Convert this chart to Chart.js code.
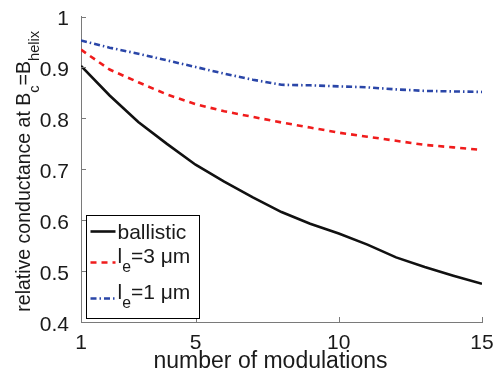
<!DOCTYPE html>
<html><head><meta charset="utf-8">
<script src="https://cdn.jsdelivr.net/npm/chart.js@4/dist/chart.umd.min.js"></script>
<style>html,body{margin:0;padding:0;background:#fff}#wrap{width:502px;height:372px}</style>
</head><body><div id="wrap"><canvas id="c" width="502" height="372"></canvas></div>
<script>
// ---- data ----
const modulations = [1,2,3,4,5,6,7,8,9,10,11,12,13,14,15];
const ballistic = [0.903,0.845,0.793,0.750,0.709,0.676,0.645,0.616,0.593,0.574,0.552,0.527,0.508,0.491,0.475];
const le3um     = [0.935,0.896,0.871,0.847,0.828,0.814,0.803,0.792,0.782,0.772,0.764,0.756,0.748,0.743,0.738];
const le1um     = [0.953,0.939,0.927,0.914,0.901,0.888,0.876,0.866,0.865,0.863,0.861,0.857,0.854,0.853,0.852];
const seriesLabels = ['ballistic','l_e=3 μm','l_e=1 μm'];
const xTickValues = [1,5,10,15];
const yTickValues = [0.4,0.5,0.6,0.7,0.8,0.9,1];
const xTitle = 'number of modulations';
const yTitle = 'relative conductance at B_c=B_{helix}';

const FAM = '"Liberation Sans", Arial, Helvetica, sans-serif';
const AXIS = '#7a7a7a';
const TXT = '#1a1a1a';

function parseRich(s){
  const parts=[]; let buf=''; let i=0;
  while(i<s.length){
    if(s[i]==='_'){
      if(buf){parts.push({t:buf,sub:false});buf='';}
      if(s[i+1]==='{'){const j=s.indexOf('}',i);parts.push({t:s.slice(i+2,j),sub:true});i=j+1;}
      else {parts.push({t:s[i+1],sub:true});i+=2;}
    } else {buf+=s[i];i++;}
  }
  if(buf)parts.push({t:buf,sub:false});
  return parts;
}
const SUBK = 0.75, SUBDY = 0.45;
function richWidth(ctx,s,size){
  let w=0;
  for(const p of parseRich(s)){ctx.font=(p.sub?size*SUBK:size)+'px '+FAM;w+=ctx.measureText(p.t).width;}
  return w;
}
function drawRich(ctx,s,x,y,size,color){
  ctx.fillStyle=color;ctx.textAlign='left';ctx.textBaseline='alphabetic';
  for(const p of parseRich(s)){
    const fs=p.sub?size*SUBK:size;
    ctx.font=fs+'px '+FAM;
    ctx.fillText(p.t,x,y+(p.sub?size*SUBDY:0));
    x+=ctx.measureText(p.t).width;
  }
}

const inwardTicks = {
  id:'inwardTicks',
  afterDraw(chart){
    const {ctx,chartArea:a,scales:{x,y}}=chart;
    ctx.save();ctx.strokeStyle=AXIS;ctx.lineWidth=1;
    ctx.beginPath();
    for(const t of x.ticks){const px=Math.round(x.getPixelForValue(t.value))+0.5;ctx.moveTo(px,a.bottom);ctx.lineTo(px,a.bottom-5);}
    for(const t of y.ticks){const py=Math.round(y.getPixelForValue(t.value))+0.5;ctx.moveTo(a.left,py);ctx.lineTo(a.left+5,py);}
    ctx.stroke();ctx.restore();
  }
};

const titlesPlugin = {
  id:'axisTitles',
  afterDraw(chart){
    const {ctx,chartArea:a}=chart;
    // y title (rotated, with subscripts)
    const size=19.5;
    ctx.save();
    const w=richWidth(ctx,yTitle,size);
    ctx.translate(30,(a.top+a.bottom)/2+2);
    ctx.rotate(-Math.PI/2);
    drawRich(ctx,yTitle,-w/2,0,size,TXT);
    ctx.restore();
    // x title
    ctx.save();
    const xs=23;
    const xw=richWidth(ctx,xTitle,xs);
    drawRich(ctx,xTitle,(a.left+a.right)/2-11-xw/2,a.bottom+45.5,xs,TXT);
    ctx.restore();
  }
};

const legendPlugin = {
  id:'richLegend',
  afterDraw(chart){
    const {ctx,chartArea:a}=chart;
    const bx=a.left+5.5, by=a.bottom-106.5, bw=113, bh=103;
    const rowY=[16,47,83];
    const size=21;
    ctx.save();
    ctx.fillStyle='#fff';ctx.fillRect(bx,by,bw,bh);
    ctx.strokeStyle='#000';ctx.lineWidth=1;ctx.strokeRect(bx,by,bw,bh);
    chart.data.datasets.forEach((ds,i)=>{
      const ly=by+rowY[i];
      ctx.save();
      ctx.strokeStyle=ds.borderColor;ctx.lineWidth=ds.borderWidth;ctx.setLineDash(ds.borderDash||[]);
      ctx.beginPath();ctx.moveTo(bx+4,ly);ctx.lineTo(bx+29,ly);ctx.stroke();
      ctx.restore();
      const hasSub=ds.label.indexOf('_')>=0;
      drawRich(ctx,ds.label,bx+31,ly+(hasSub?0:size*0.36),size,TXT);
    });
    ctx.restore();
  }
};

const pts = arr => modulations.map((m,i)=>({x:m,y:arr[i]}));

new Chart(document.getElementById('c').getContext('2d'),{
  type:'line',
  data:{datasets:[
    {label:seriesLabels[0],data:pts(ballistic),borderColor:'#111111',borderWidth:2.6,borderDash:[],pointRadius:0,tension:0,fill:false},
    {label:seriesLabels[1],data:pts(le3um),borderColor:'#f01c1c',borderWidth:2.6,borderDash:[6,5],pointRadius:0,tension:0,fill:false},
    {label:seriesLabels[2],data:pts(le1um),borderColor:'#2a46a8',borderWidth:2.6,borderDash:[6,3,1.5,3],pointRadius:0,tension:0,fill:false}
  ]},
  options:{
    responsive:false,animation:false,devicePixelRatio:1,
    layout:{padding:{left:0,right:20,top:15,bottom:0}},
    plugins:{legend:{display:false},tooltip:{enabled:false}},
    scales:{
      x:{type:'linear',min:1,max:15,
        afterBuildTicks:s=>{s.ticks=xTickValues.map(v=>({value:v}));},
        grid:{display:false},border:{display:true,color:AXIS,width:1},
        ticks:{font:{family:FAM,size:21},color:TXT,padding:1,maxRotation:0,autoSkip:false,callback:v=>String(v)},
        title:{display:false},
        afterFit:s=>{s.height=50;}
      },
      y:{type:'linear',min:0.4,max:1,
        afterBuildTicks:s=>{s.ticks=yTickValues.map(v=>({value:v}));},
        grid:{display:false},border:{display:true,color:AXIS,width:1},
        ticks:{font:{family:FAM,size:21},color:TXT,padding:4,labelOffset:3,autoSkip:false,callback:v=>String(Math.round(v*10)/10)},
        afterFit:s=>{s.width=81;}
      }
    }
  },
  plugins:[inwardTicks,titlesPlugin,legendPlugin]
});
</script>
</body></html>
